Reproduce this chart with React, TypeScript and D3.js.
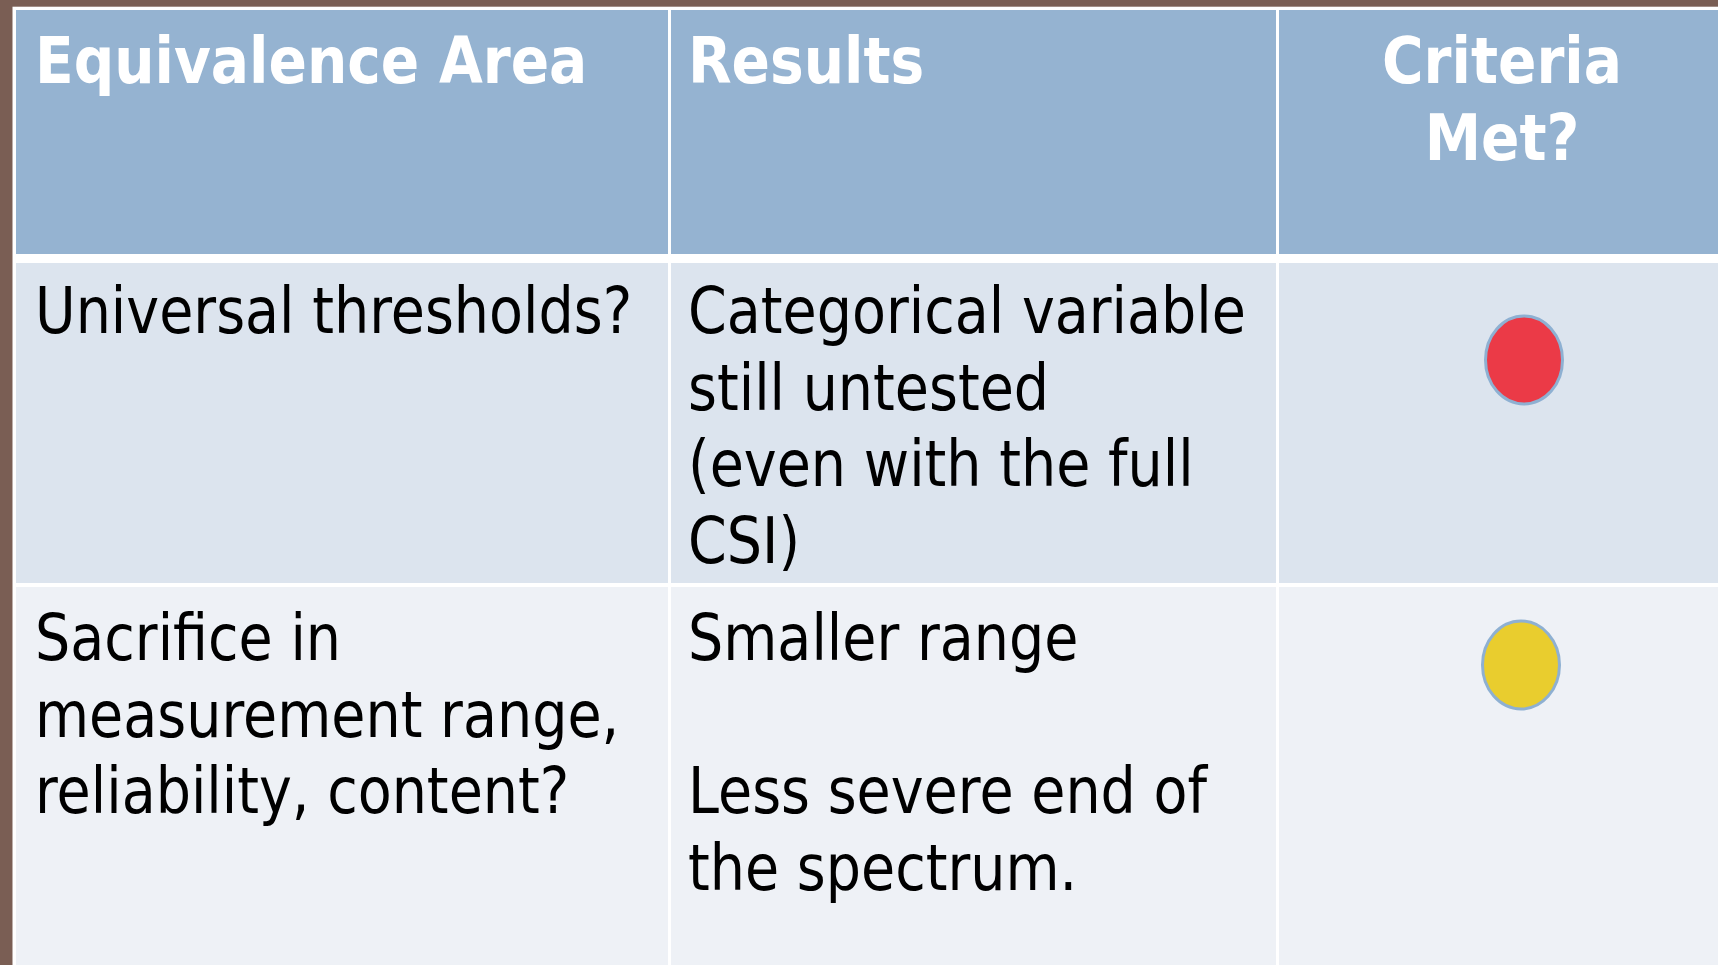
import React from "react";
import * as d3 from "d3";

// ---- data ----
const headers: string[][] = [["Equivalence Area"], ["Results"], ["Criteria", "Met?"]];
const areaLines: string[][] = [
  ["Universal thresholds?"],
  ["Sacrifice in", "measurement range,", "reliability, content?"],
];
const resultLines: string[][] = [
  ["Categorical variable", "still untested", "(even with the full", "CSI)"],
  ["Smaller range", "", "Less severe end of", "the spectrum."],
];
const statusColors: string[] = ["#EB3A47", "#E9CD2E"];

// ---- layout ----
const W = 1718;
const H = 965;
const BROWN = "#7A5E54";
const HEADER_BG = "#95B3D1";
const ROW_BG = ["#DCE4EE", "#EEF1F6"];
const FONT = "'DejaVu Sans', Verdana, sans-serif";
const FS = 64;
const LINE = 76.5;
const SX_REG = 0.868;
const SX_BOLD = 0.885;

const cols = [
  { x0: 16, x1: 668, tx: 35 },
  { x0: 671, x1: 1276, tx: 688 },
  { x0: 1279, x1: W, tx: 1502 },
];
const headerY = { y0: 10, y1: 254 };
const rowsY = [
  { y0: 263, y1: 583, base: 333, cx: 1524, cy: 360 },
  { y0: 587, y1: H, base: 660, cx: 1521, cy: 665 },
];

function Lines({ lines, x, base, bold, anchor }: { lines: string[]; x: number; base: number; bold?: boolean; anchor?: string }) {
  const y = d3.scaleLinear().domain([0, 1]).range([base, base + LINE]);
  return (
    <g>
      {lines.map((l, i) =>
        l ? (
          <text
            key={i}
            transform={`translate(${x},${y(i)}) scale(${bold ? SX_BOLD : SX_REG},1)`}
            fontFamily={FONT}
            fontSize={FS}
            fontWeight={bold ? "bold" : "normal"}
            fill={bold ? "#FFFFFF" : "#000000"}
            textAnchor={anchor || "start"}
          >
            {l}
          </text>
        ) : null
      )}
    </g>
  );
}

export default function App() {
  return (
    <svg
      width={W}
      height={H}
      style={{ position: "absolute", left: 0, top: 0, display: "block" }}
    >
      <rect x={0} y={0} width={W} height={H} fill={BROWN} />
      <rect x={12.5} y={6.7} width={W} height={H} fill="#FFFFFF" />
      {/* header */}
      {cols.map((c, i) => (
        <rect key={"h" + i} x={c.x0} y={headerY.y0} width={c.x1 - c.x0} height={headerY.y1 - headerY.y0} fill={HEADER_BG} />
      ))}
      {headers.map((h, i) => (
        <Lines key={"ht" + i} lines={h} x={cols[i].tx} base={83} bold anchor={i === 2 ? "middle" : "start"} />
      ))}
      {/* body */}
      {rowsY.map((r, ri) => (
        <g key={"r" + ri}>
          {cols.map((c, ci) => (
            <rect key={ci} x={c.x0} y={r.y0} width={c.x1 - c.x0} height={r.y1 - r.y0} fill={ROW_BG[ri]} />
          ))}
          <Lines lines={areaLines[ri]} x={cols[0].tx} base={r.base} />
          <Lines lines={resultLines[ri]} x={cols[1].tx} base={r.base} />
          <ellipse cx={r.cx} cy={r.cy} rx={38.5} ry={44} fill={statusColors[ri]} stroke="#8EB0D2" strokeWidth={3} />
        </g>
      ))}
    </svg>
  );
}
